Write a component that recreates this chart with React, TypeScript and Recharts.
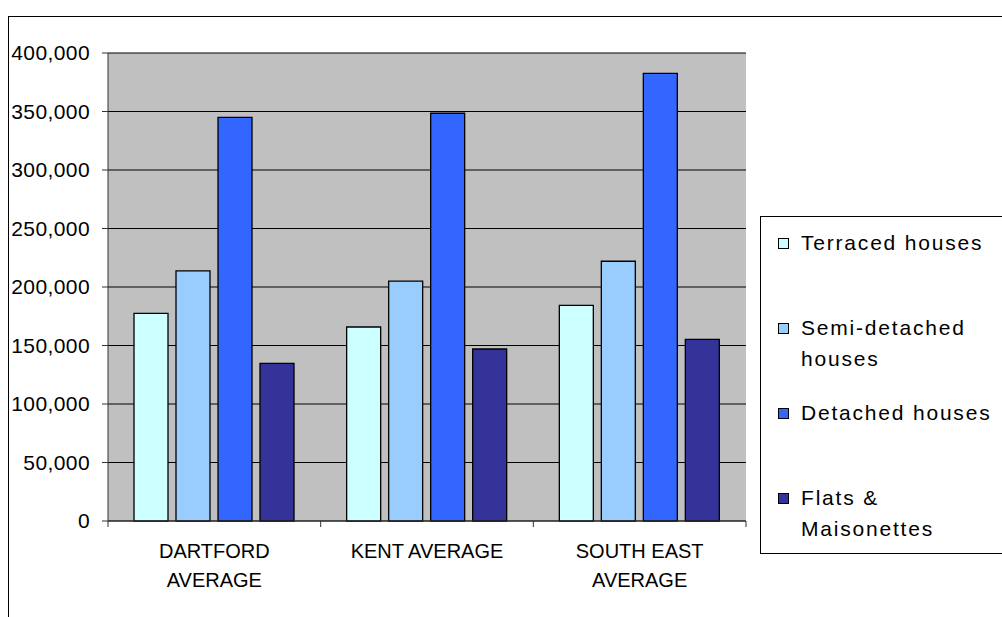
import { Bar, BarChart, CartesianGrid, Legend, XAxis, YAxis } from "recharts";

const categories = ["DARTFORD\nAVERAGE", "KENT AVERAGE", "SOUTH EAST\nAVERAGE"];
const terraced = [177500, 165800, 184300];
const semiDetached = [213700, 205100, 222000];
const detached = [345000, 348500, 382600];
const flats = [134800, 147000, 155300];
const yTicks = [0, 50000, 100000, 150000, 200000, 250000, 300000, 350000, 400000];

const series = [
  { key: "terraced", name: "Terraced houses", color: "#CCFFFF" },
  { key: "semi", name: "Semi-detached houses", color: "#99CCFF" },
  { key: "detached", name: "Detached houses", color: "#3366FF" },
  { key: "flats", name: "Flats & Maisonettes", color: "#333399" },
];

const data = categories.map((name, i) => ({
  name,
  terraced: terraced[i],
  semi: semiDetached[i],
  detached: detached[i],
  flats: flats[i],
}));

const FONT = '"Liberation Sans", Arial, sans-serif';

function CategoryTick(props: any) {
  const { x, y, payload, index } = props;
  const half = payload.offset ?? 0;
  const lines = String(payload.value).split("\n");
  return (
    <g>
      <line x1={x - half} x2={x - half} y1={y - 6} y2={y} stroke="#333" />
      {index === categories.length - 1 && (
        <line x1={x + half} x2={x + half} y1={y - 6} y2={y} stroke="#333" />
      )}
      <text x={x} y={y} textAnchor="middle" fontSize={20} fill="#000">
        {lines.map((l, i) => (
          <tspan key={i} x={x} dy={i === 0 ? 31 : 29}>
            {l}
          </tspan>
        ))}
      </text>
    </g>
  );
}

// legend box runs off the right edge in the original, so no right border
function LegendBox() {
  return (
    <div
      style={{
        width: 241,
        height: 326,
        borderTop: "1px solid #000",
        borderLeft: "1px solid #000",
        borderBottom: "1px solid #000",
        borderRight: "none",
        background: "#fff",
        boxSizing: "content-box",
        paddingTop: 10,
        fontFamily: FONT,
        fontSize: 21,
        letterSpacing: 1.8,
        color: "#000",
        overflow: "hidden",
      }}
    >
      {series.map((s) => (
        <div key={s.key} style={{ height: 85, display: "flex", alignItems: "flex-start" }}>
          <div
            style={{
              width: 9,
              height: 9,
              marginLeft: 17,
              marginTop: 11,
              background: s.color,
              border: "1px solid #000",
              flexShrink: 0,
            }}
          />
          <div style={{ marginLeft: 12, width: 200, flexShrink: 0, lineHeight: "31px", textAlign: "left" }}>{s.name}</div>
        </div>
      ))}
    </div>
  );
}

export default function App() {
  return (
    <div style={{ position: "absolute", left: 0, top: 0, width: 1002, height: 617, background: "#fff", overflow: "hidden", fontFamily: FONT }}>
      <div
        style={{
          position: "absolute",
          left: 8,
          top: 16,
          width: 1100,
          height: 700,
          border: "1px solid #000",
          boxSizing: "border-box",
        }}
      />
      <div style={{ position: "absolute", left: 0, top: 0 }}>
        <BarChart
          width={1002}
          height={617}
          data={data}
          margin={{ top: 53, right: 256, bottom: 0, left: 8 }}
          barSize={34}
          barGap={8}
        >
          <CartesianGrid horizontal vertical={false} stroke="#000" fill="#C0C0C0" fillOpacity={1} />
          <XAxis
            dataKey="name"
            axisLine={{ stroke: "#333" }}
            tickLine={false}
            tickSize={6}
            tickMargin={0}
            interval={0}
            tick={<CategoryTick />}
            height={96}
          />
          <XAxis xAxisId="top" dataKey="name" orientation="top" height={0} tick={false} tickLine={false} axisLine={{ stroke: "#808080", strokeWidth: 2 }} />
          <YAxis
            domain={[0, 400000]}
            ticks={yTicks}
            interval={0}
            width={100}
            tickSize={6}
            tickMargin={12}
            axisLine={{ stroke: "#333" }}
            tickLine={{ stroke: "#333" }}
            tick={{ fill: "#000", fontSize: 21, fontFamily: FONT, style: { letterSpacing: 0.4 } } as any}
            tickFormatter={(v: number) => v.toLocaleString("en-US")}
          />
          <YAxis yAxisId="right" orientation="right" width={0} domain={[0, 1]} type="number" tick={false} tickLine={false} axisLine={{ stroke: "#808080", strokeWidth: 2 }} />
          {series.map((s) => (
            <Bar
              key={s.key}
              dataKey={s.key}
              name={s.name}
              fill={s.color}
              stroke="#000"
              strokeWidth={1.3}
              isAnimationActive={false}
            />
          ))}
          <Legend
            layout="vertical"
            align="center"
            verticalAlign="middle"
            content={() => <LegendBox />}
            wrapperStyle={{ left: 760, top: 216, width: 242, height: 338, overflow: "hidden" }}
          />
        </BarChart>
      </div>
    </div>
  );
}
